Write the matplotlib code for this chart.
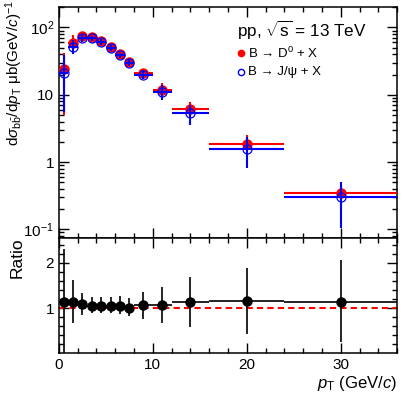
import numpy as np
import matplotlib
matplotlib.use("Agg")
import matplotlib.pyplot as plt
from matplotlib.ticker import FixedLocator, MultipleLocator, LogLocator, NullFormatter, FixedFormatter

plt.rcParams['font.family'] = ['Liberation Sans', 'DejaVu Sans']
plt.rcParams['mathtext.fontset'] = 'custom'
plt.rcParams['mathtext.rm'] = 'Liberation Sans'
plt.rcParams['mathtext.it'] = 'Liberation Sans:italic'
plt.rcParams['mathtext.bf'] = 'Liberation Sans:bold'

# pT bins
bin_edges = [0, 1, 2, 3, 4, 5, 6, 7, 8, 10, 12, 16, 24, 36]

# B -> D0 + X
d0_val = [24, 58.6, 73.5, 72, 64, 52, 40, 30.5, 21, 11.8, 6.2, 1.84, 0.35]
d0_up = [42, 78, 82, 80, 70, 57, 44, 33.5, 24, 14.9, 7.9, 2.5, 0.46]
d0_lo = [5.0, 50, 66, 65, 58, 47, 36, 27.5, 18, 9.5, 4.8, 1.3, 0.22]

# B -> J/psi + X
jp_val = [21, 51, 69, 69, 61, 50, 38.5, 29.5, 20, 10.9, 5.3, 1.57, 0.30]
jp_up = [39, 65, 77, 76, 67, 55, 42, 32.5, 23, 14, 7.0, 2.4, 0.50]
jp_lo = [5.6, 41, 61, 62, 55, 45, 35, 26.5, 17, 8.4, 3.5, 0.81, 0.105]

# ratio
ratio_val = [1.14, 1.14, 1.10, 1.05, 1.05, 1.05, 1.05, 1.01, 1.07, 1.07, 1.14, 1.15, 1.14]
ratio_up = [2.31, 1.62, 1.33, 1.24, 1.24, 1.25, 1.27, 1.22, 1.35, 1.47, 1.70, 1.89, 2.07]
ratio_lo = [-1.0, 0.66, 0.84, 0.90, 0.88, 0.88, 0.87, 0.83, 0.76, 0.66, 0.57, 0.42, 0.24]

edges = np.array(bin_edges, dtype=float)
x = 0.5 * (edges[1:] + edges[:-1])
xw = 0.5 * (edges[1:] - edges[:-1])


def yerr(val, lo, up):
    val = np.array(val)
    return [val - np.array(lo), np.array(up) - val]


fig = plt.figure(figsize=(4.09, 3.99), dpi=100)
ax1 = fig.add_axes([0.144, 0.403, 0.827, 0.580])
ax2 = fig.add_axes([0.144, 0.116, 0.827, 0.287], sharex=ax1)

ax1.errorbar(x, d0_val, xerr=xw, yerr=yerr(d0_val, d0_lo, d0_up), fmt="o", color="#ff0000",
             ms=6.5, lw=1.5, capsize=0, mec="#ff0000", zorder=3)
ax1.errorbar(x, jp_val, xerr=xw, yerr=yerr(jp_val, jp_lo, jp_up), fmt="o", color="#0000ff",
             ms=6.5, mfc="none", mec="#0000ff", mew=0.9, lw=1.5, capsize=0, zorder=4)

ax1.set_yscale("log")
ax1.set_ylim(0.074, 203)
ax1.set_xlim(0, 36)
ax1.yaxis.set_major_locator(FixedLocator([0.1, 1, 10, 100]))
ax1.yaxis.set_major_formatter(FixedFormatter([r"$10^{-1}$", "1", "10", r"$10^{2}$"]))
ax1.yaxis.set_minor_locator(LogLocator(base=10, subs=np.arange(2, 10)))
ax1.yaxis.set_minor_formatter(NullFormatter())
ax1.set_ylabel(r"d$\sigma_{\mathrm{b\bar{b}}}$/d$p_{\mathrm{T}}$ μb(GeV/$c$)$^{-1}$", fontsize=11)
ax1.yaxis.set_label_coords(-0.10, 0.714)
plt.setp(ax1.get_xticklabels(), visible=False)

ax1.text(0.526, 0.896, r"pp, $\sqrt{\mathrm{s}}$ = 13 TeV", transform=ax1.transAxes, fontsize=12.3,
         ha="left", va="center")
ax1.plot([0.538], [0.80], "o", color="#ff0000", ms=4.5, transform=ax1.transAxes)
ax1.text(0.559, 0.80, r"B → D$^{0}$ + X", transform=ax1.transAxes, fontsize=9.5,
         ha="left", va="center")
ax1.plot([0.538], [0.72], "o", mfc="none", mec="#0000ff", ms=4.5, transform=ax1.transAxes)
ax1.text(0.559, 0.72, "B → J/ψ + X", transform=ax1.transAxes, fontsize=9.5,
         ha="left", va="center")

ax2.errorbar(x, ratio_val, xerr=xw, yerr=yerr(ratio_val, ratio_lo, ratio_up), fmt="o", color="black",
             ms=6.5, lw=1.2, capsize=0, zorder=3)
ax2.axhline(1.0, color="#ff0000", ls=(0, (3, 2)), lw=1.5, zorder=2)
ax2.set_ylim(0.01, 2.55)
ax2.yaxis.set_major_locator(FixedLocator([1, 2]))
ax2.yaxis.set_minor_locator(MultipleLocator(0.2))
ax2.xaxis.set_major_locator(MultipleLocator(10))
ax2.xaxis.set_minor_locator(MultipleLocator(2))
ax2.set_ylabel("Ratio", fontsize=12.5)
ax2.yaxis.set_label_coords(-0.10, 0.83)
ax2.set_xlabel(r"$p_{\mathrm{T}}$ (GeV/$c$)", fontsize=12, ha="right", x=1.0, labelpad=2)

for ax in (ax1, ax2):
    ax.tick_params(which="both", direction="in", top=True, right=True, labelsize=11, width=1)
    ax.tick_params(which="major", length=7)
    ax.tick_params(which="minor", length=3.5)
    for sp in ax.spines.values():
        sp.set_linewidth(1.1)
ax1.xaxis.set_major_locator(MultipleLocator(10))
ax1.xaxis.set_minor_locator(MultipleLocator(2))

fig.savefig("out.png", dpi=100)
